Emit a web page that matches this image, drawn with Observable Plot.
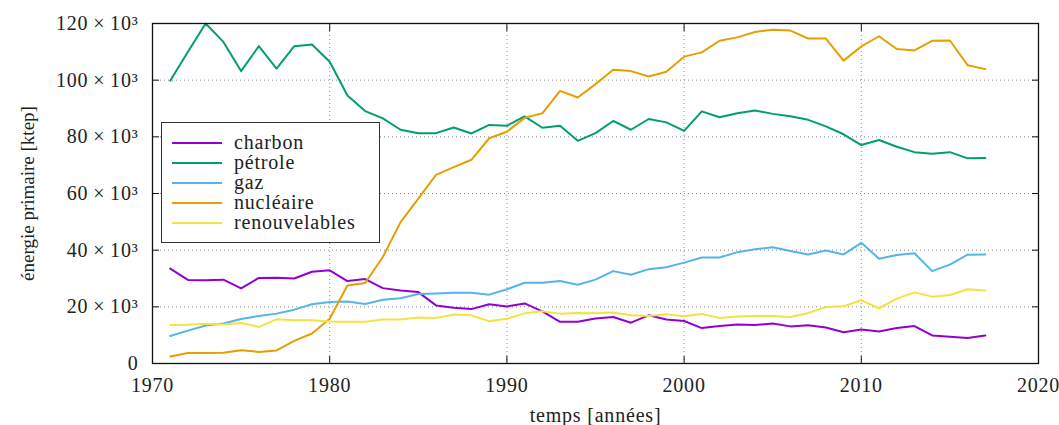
<!DOCTYPE html>
<html><head><meta charset="utf-8">
<script src="https://cdn.jsdelivr.net/npm/d3@7"></script>
<script src="https://cdn.jsdelivr.net/npm/@observablehq/plot@0.6"></script>
<style>
body{margin:0;background:#fff}
#wrap{position:relative;width:1059px;height:425px;font-family:"Liberation Serif",serif}
#legend{position:absolute;left:161px;top:122px;width:219px;height:121px;border:1.5px solid #333;background:#fff;box-sizing:border-box}
.row{position:absolute;left:0;height:20px;width:100%}
.row .ln{position:absolute;left:10px;top:9px;width:50px;height:0;border-top:2.5px solid}
.row .tx{position:absolute;left:72px;top:-2px;font-size:20px;letter-spacing:0.8px;line-height:22px;color:#222}
</style>
</head><body>
<div id="wrap"></div>
<script>
const years = d3.range(1971, 2018);
const names = ["charbon", "pétrole", "gaz", "nucléaire", "renouvelables"];
const colors = ["#9400d3", "#009e73", "#56b4e9", "#e69f00", "#f0e442"];
const charbon = [33.5,29.5,29.4,29.6,26.5,30.2,30.3,30.0,32.4,32.9,29.1,29.8,26.6,25.8,25.2,20.5,19.7,19.2,20.9,20.1,21.2,18.4,14.7,14.7,15.9,16.4,14.4,17.0,15.5,15.0,12.5,13.2,13.8,13.6,14.1,13.1,13.5,12.7,11.0,12.0,11.3,12.5,13.2,9.9,9.4,9.0,9.9];
const petrole = [99.8,110.0,120.0,113.5,103.2,112.0,104.1,112.0,112.6,106.5,94.6,89.1,86.5,82.5,81.3,81.3,83.3,81.2,84.2,83.9,87.2,83.2,83.9,78.6,81.3,85.6,82.5,86.3,85.1,82.1,89.0,86.9,88.3,89.3,88.1,87.3,86.0,83.7,80.9,77.1,78.9,76.5,74.6,74.0,74.6,72.4,72.5];
const gaz = [9.7,11.6,13.4,14.1,15.7,16.8,17.6,19.0,20.9,21.7,21.9,21.0,22.5,23.0,24.5,24.7,25.0,25.0,24.3,26.2,28.5,28.5,29.1,27.8,29.6,32.6,31.3,33.3,34.0,35.6,37.4,37.4,39.3,40.3,41.0,39.7,38.5,39.9,38.5,42.6,37.0,38.3,38.9,32.6,34.9,38.4,38.5];
const nucleaire = [2.5,3.7,3.7,3.8,4.7,4.1,4.6,8.0,10.6,15.8,27.5,28.4,37.6,49.9,58.2,66.6,69.3,71.9,79.5,81.8,86.7,88.3,96.2,93.9,98.6,103.7,103.2,101.3,103.0,108.3,109.8,113.9,115.1,117.0,117.8,117.5,114.7,114.7,106.9,111.9,115.5,111.0,110.5,113.9,114.0,105.3,103.9];
const renouvelables = [13.6,13.7,14.0,13.8,14.3,12.9,15.6,15.3,15.3,14.8,14.7,14.7,15.5,15.5,16.2,16.1,17.3,17.0,14.9,15.8,17.7,18.4,17.6,17.8,17.7,18.0,17.0,16.8,17.4,16.7,17.5,16.1,16.6,16.8,16.8,16.4,17.8,19.9,20.2,22.3,19.5,22.9,25.1,23.6,24.2,26.2,25.8];
const xTicks = [1970, 1980, 1990, 2000, 2010, 2020];
const yTicks = [0, 20000, 40000, 60000, 80000, 100000, 120000];
const yTickLabels = ["0", "20\u2009×\u200910³", "40\u2009×\u200910³", "60\u2009×\u200910³", "80\u2009×\u200910³", "100\u2009×\u200910³", "120\u2009×\u200910³"];

const seriesValues = [charbon, petrole, gaz, nucleaire, renouvelables];
const data = [];
names.forEach((n, k) => years.forEach((yr, i) => data.push({year: yr, value: seriesValues[k][i] * 1000, name: n})));

const grid = {stroke: "#8a8a8a", strokeOpacity: 1, strokeDasharray: "1,3", strokeWidth: 1};
const chart = Plot.plot({
  width: 1059, height: 425,
  marginLeft: 152, marginRight: 21, marginTop: 23, marginBottom: 62,
  style: {fontFamily: "'Liberation Serif', serif", fontSize: "20px", letterSpacing: "0.8px", color: "#222", background: "#fff"},
  x: {domain: [1970, 2020]},
  y: {domain: [0, 120000]},
  color: {domain: names, range: colors},
  marks: [
    Plot.gridX(xTicks, grid),
    Plot.gridY(yTicks, grid),
    Plot.lineY(data, {x: "year", y: "value", z: "name", stroke: "name", strokeWidth: 2}),
    Plot.frame({stroke: "#111", strokeWidth: 1.3}),
    Plot.axisX(xTicks, {anchor: "bottom", tickSize: 0, tickPadding: 14, tickFormat: d => String(d), label: "temps [années]", labelAnchor: "center", labelArrow: "none", labelOffset: 58}),
    Plot.axisX(xTicks, {anchor: "bottom", tickSize: -7, fill: "none", label: null, stroke: "#111"}),
    Plot.axisX(xTicks, {anchor: "top", tickSize: -7, fill: "none", label: null, stroke: "#111"}),
    Plot.axisY(yTicks, {anchor: "left", tickSize: 0, tickPadding: 14, tickFormat: d => yTickLabels[yTicks.indexOf(d)], label: "énergie primaire [ktep]", labelAnchor: "center", labelArrow: "none", labelOffset: 132}),
    Plot.axisY(yTicks, {anchor: "left", tickSize: -7, fill: "none", label: null, stroke: "#111"}),
    Plot.axisY(yTicks, {anchor: "right", tickSize: -7, fill: "none", label: null, stroke: "#111"})
  ]
});
d3.select(chart).selectAll('g[aria-label="y-axis label"] text').style("letter-spacing", "0px").style("font-size", "19px");
const wrap = document.getElementById("wrap");
wrap.appendChild(chart);
const legend = document.createElement("div");
legend.id = "legend";
names.forEach((n, i) => {
  const row = document.createElement("div");
  row.className = "row";
  row.style.top = (10 + i * 20) + "px";
  row.innerHTML = `<div class="ln" style="border-color:${colors[i]}"></div><div class="tx">${n}</div>`;
  legend.appendChild(row);
});
wrap.appendChild(legend);
</script>
</body></html>
